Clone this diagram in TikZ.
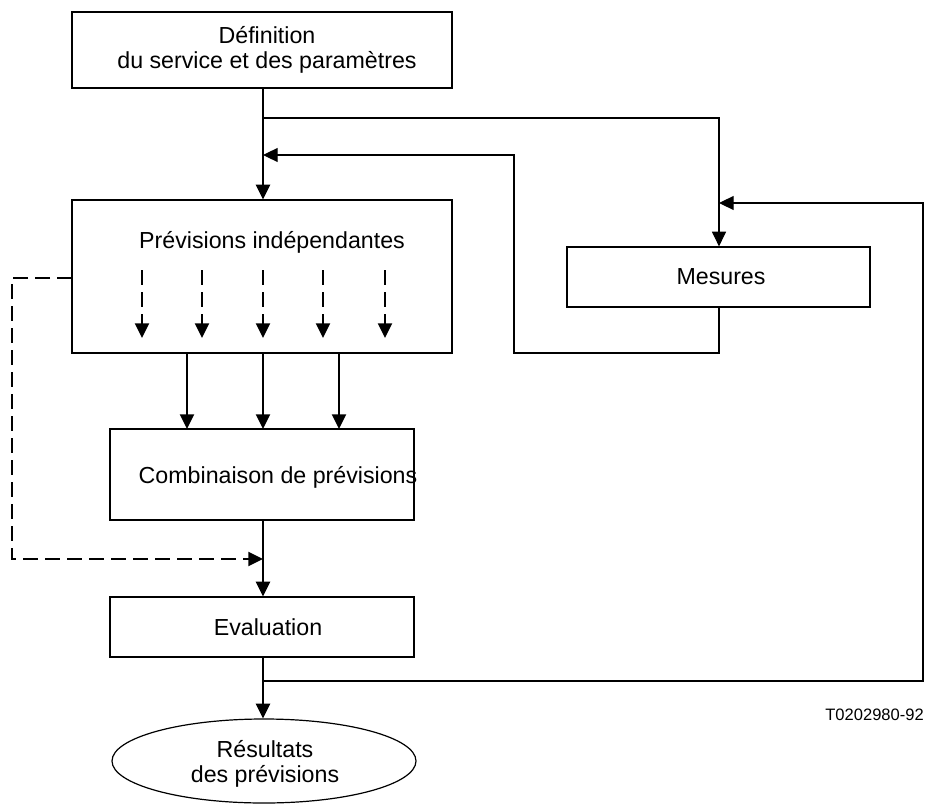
\documentclass[tikz,border=0pt]{standalone}
\usepackage{fontspec}
\setmainfont{Liberation Sans}
\usetikzlibrary{arrows.meta,shapes.geometric}
\begin{document}
\begin{tikzpicture}[x=0.75pt,y=-0.75pt,
  box/.style={draw,line width=0.9pt,inner sep=0pt},
  txt/.style={font=\fontsize{17.4}{18.8}\selectfont,align=center,inner sep=0pt},
  tip/.style={-{Triangle[length=11pt,width=10.5pt]}},
  mainarrow/.style={line width=1.5pt,tip},
  thinline/.style={line width=0.8pt},
  thinarrow/.style={line width=0.8pt,tip},
  dashline/.style={line width=1.5pt,dash pattern=on 11pt off 5.5pt,tip},
]
\useasboundingbox (0,0) rectangle (927,806);

% boxes
\node[box,minimum width=285pt,minimum height=57pt] (b1) at (262,50) {};
\node[txt] (t1) at (267,50) {Définition\\du service et des paramètres};
\node[box,minimum width=285pt,minimum height=114.75pt] (b2) at (262,276.5) {};
\node[txt] (t2) at (272,242) {Prévisions indépendantes};
\node[box,minimum width=227.25pt,minimum height=45pt] (b3) at (718.5,277) {};
\node[txt] (t3) at (721,277) {Mesures};
\node[box,minimum width=228pt,minimum height=68.25pt] (b4) at (262,474.5) {};
\node[txt] (t4) at (278,477) {Combinaison de prévisions};
\node[box,minimum width=228pt,minimum height=45pt] (b5) at (262,627) {};
\node[txt] (t5) at (268,627) {Evaluation};
\node[draw,ellipse,line width=0.9pt,inner sep=0pt,minimum width=228pt,minimum height=63pt] (e) at (264,761) {};
\node[txt] (te) at (265,764) {Résultats\\des prévisions};
\node[font=\fontsize{12.4}{14}\selectfont,anchor=east,inner sep=0pt] (lab) at (924,715) {T0202980-92};

% coordinates
\coordinate (j1) at (263,118);
\coordinate (j2) at (263,155);
\coordinate (m1) at (514,353);
\coordinate (r1) at (923,681);
\coordinate (r2) at (923,203);
\coordinate (j3) at (719,203);
\coordinate (j4) at (263,681);
\coordinate (dA) at (72,278);
\coordinate (dB) at (12,278);
\coordinate (dC) at (12,559);
\coordinate (dD) at (263,559);

% main flow
\draw[mainarrow] (b1.south -| j1) -- (b2.north -| j1);
\draw[thinarrow] (j1) -| (b3.north -| j3);
\draw[thinarrow] (b3.south -| j3) |- (m1) |- (j2);
\draw[thinarrow] (j4) -| (r2) -- (j3);

\foreach \x in {142,202,263,323,385}{
  \coordinate (ds\x) at (\x,270);
  \coordinate (de\x) at (\x,338);
  \draw[dashline] (ds\x) -- (de\x);
}
\foreach \x in {187,263,339}{
  \coordinate (ss\x) at (\x,353);
  \coordinate (se\x) at (\x,429);
  \draw[mainarrow] (ss\x) -- (se\x);
}
\draw[dashline] (dA) -- (dB) -- (dC) -- (dD);
\draw[mainarrow] (b4.south -| j1) -- (b5.north -| j1);
\draw[mainarrow] (b5.south -| j1) -- (e.north -| j1);
\end{tikzpicture}
\end{document}
